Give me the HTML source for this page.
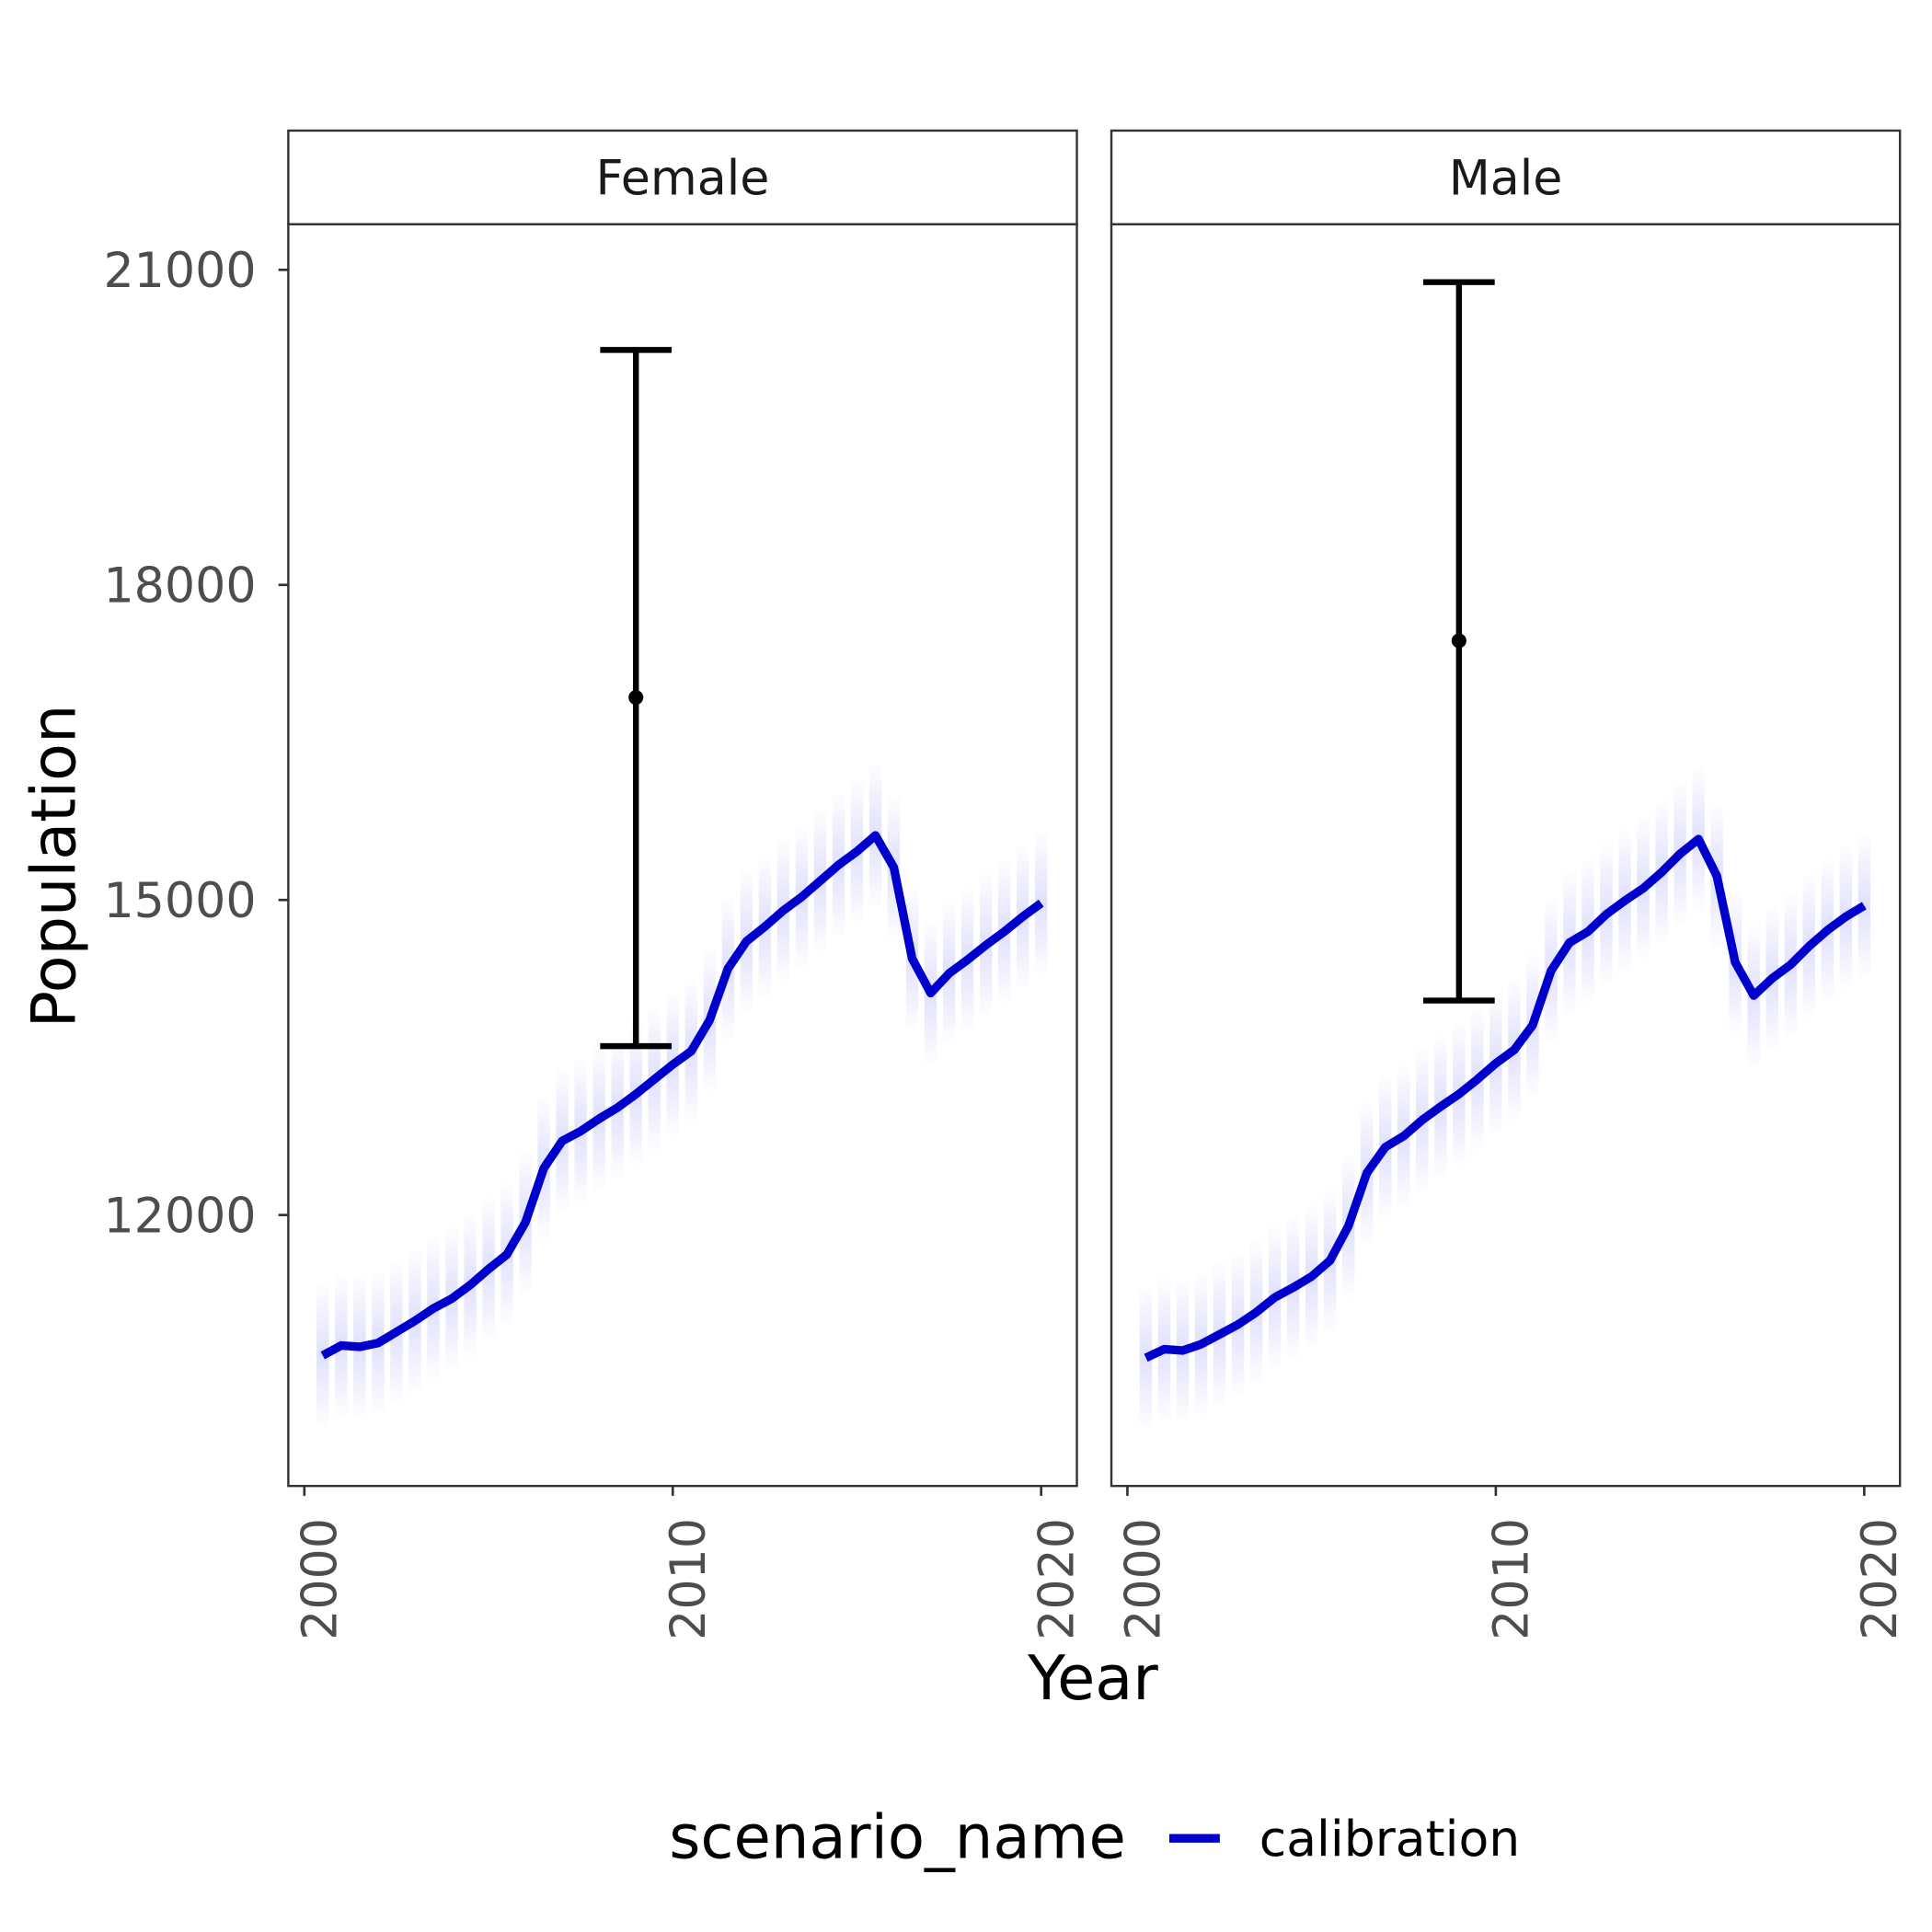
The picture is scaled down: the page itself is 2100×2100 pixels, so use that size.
<!DOCTYPE html>
<html><head><meta charset="utf-8"><style>
html,body{margin:0;padding:0;background:#fff;}
svg{display:block;font-family:"DejaVu Sans","Liberation Sans",sans-serif;}
</style></head><body>
<svg id="chart" width="2100" height="2100" viewBox="0 0 1568 1568" xmlns="http://www.w3.org/2000/svg">
<defs>
<linearGradient id="band" x1="0" y1="0" x2="0" y2="1">
<stop offset="0" stop-color="#0000ee" stop-opacity="0"/>
<stop offset="0.5" stop-color="#0000ee" stop-opacity="0.12"/>
<stop offset="1" stop-color="#0000ee" stop-opacity="0"/>
</linearGradient>
</defs>
<rect width="1568" height="1568" fill="#fff"/>
<g id="panels"></g>
<text transform="translate(61,703) rotate(-90)" text-anchor="middle" font-size="50" fill="#000">Population</text>
<text x="887" y="1379" text-anchor="middle" font-size="50" fill="#000">Year</text>
<g>
<text x="543" y="1508" font-size="49" fill="#000">scenario_name</text>
<line x1="949" y1="1492" x2="990" y2="1492" stroke="#0000cd" stroke-width="7"/>
<text x="1022" y="1506" font-size="40" fill="#000">calibration</text>
</g>
</svg>
<script>
const years = [];
for (let i = 0; i < 40; i++) years.push(2000.5 + i * 0.5);
const femaleValues = [10663,10757,10745,10781,10886,10992,11109,11203,11332,11485,11625,11930,12447,12705,12799,12916,13022,13151,13292,13432,13561,13855,14347,14606,14747,14899,15028,15181,15333,15462,15615,15310,14441,14113,14301,14430,14570,14699,14840,14969];
const maleValues = [10640,10722,10710,10769,10863,10957,11074,11215,11309,11414,11567,11895,12400,12646,12752,12904,13033,13151,13292,13444,13573,13808,14324,14594,14699,14864,14993,15110,15263,15439,15580,15228,14406,14090,14254,14383,14559,14711,14840,14946];
const panelNames = ["Female", "Male"];
const targetYear = [2009, 2009];
const targetMean = [16929, 17468];
const targetLow = [13608, 14042];
const targetHigh = [20237, 20883];
const yTicks = [12000, 15000, 18000, 21000];
const xTicks = [2000, 2010, 2020];

(function () {
const NS = "http://www.w3.org/2000/svg";
const root = document.getElementById("panels");
function mk(tag, attrs, parent) {
  const e = document.createElementNS(NS, tag);
  for (const k in attrs) e.setAttribute(k, attrs[k]);
  parent.appendChild(e);
  return e;
}
const panelX = [234, 902];
const panelW = 640, plotTop = 182, plotBottom = 1206;
function yScale(v) { return 219 + (21000 - v) * (255.7 / 3000); }

panelNames.forEach((name, p) => {
  const x0 = panelX[p];
  const xScale = yr => x0 + 13 + (yr - 2000) * 29.9;
  const vals = p === 0 ? femaleValues : maleValues;
  const g = mk("g", {}, root);
  
  
  const strip = mk("rect", {x: x0, y: 106, width: panelW, height: 76, fill: "#fff", stroke: "#333", "stroke-width": 1.8}, g);
  
  
  const st = mk("text", {x: x0 + panelW / 2, y: 158, "text-anchor": "middle", "font-size": 39, fill: "#1a1a1a"}, g);
  st.textContent = name;
  
  
  years.forEach((yr, i) => {
    const cx = xScale(yr), cy = yScale(vals[i]);
    const r = mk("rect", {x: cx - 5, y: cy - 60, width: 10, height: 120, fill: "url(#band)"}, g);
    
    
  });
  const pts = years.map((yr, i) => xScale(yr).toFixed(1) + "," + yScale(vals[i]).toFixed(1)).join(" ");
  const line = mk("polyline", {points: pts, fill: "none", stroke: "#0000cd", "stroke-width": 7, "stroke-linejoin": "round"}, g);
  
  
  const ex = xScale(targetYear[p]);
  const eg = mk("g", {stroke: "#000", "stroke-width": 4.8}, g);
  
  
  mk("line", {x1: ex, x2: ex, y1: yScale(targetHigh[p]), y2: yScale(targetLow[p])}, eg);
  mk("line", {x1: ex - 29, x2: ex + 29, y1: yScale(targetHigh[p]), y2: yScale(targetHigh[p])}, eg);
  mk("line", {x1: ex - 29, x2: ex + 29, y1: yScale(targetLow[p]), y2: yScale(targetLow[p])}, eg);
  const dot = mk("circle", {cx: ex, cy: yScale(targetMean[p]), r: 6, fill: "#000"}, g);
  
  
  const frame = mk("rect", {x: x0, y: plotTop, width: panelW, height: plotBottom - plotTop, fill: "none", stroke: "#333", "stroke-width": 1.8}, g);
  
  
  xTicks.forEach(t => {
    const tx = xScale(t);
    mk("line", {x1: tx, x2: tx, y1: plotBottom, y2: plotBottom + 8, stroke: "#333", "stroke-width": 2}, g);
    const lt = mk("text", {transform: "translate(" + (tx + 26) + "," + (plotBottom + 26) + ") rotate(-90)", "text-anchor": "end", "font-size": 39, fill: "#4d4d4d"}, g);
    lt.textContent = t;
    
    
  });
  if (p === 0) {
    yTicks.forEach(t => {
      const ty = yScale(t);
      mk("line", {x1: x0 - 8, x2: x0, y1: ty, y2: ty, stroke: "#333", "stroke-width": 2}, g);
      const lt = mk("text", {x: x0 - 26, y: ty + 14, "text-anchor": "end", "font-size": 39, fill: "#4d4d4d"}, g);
      lt.textContent = t;
      
      
    });
  }
});
})();
</script>
</body></html>
